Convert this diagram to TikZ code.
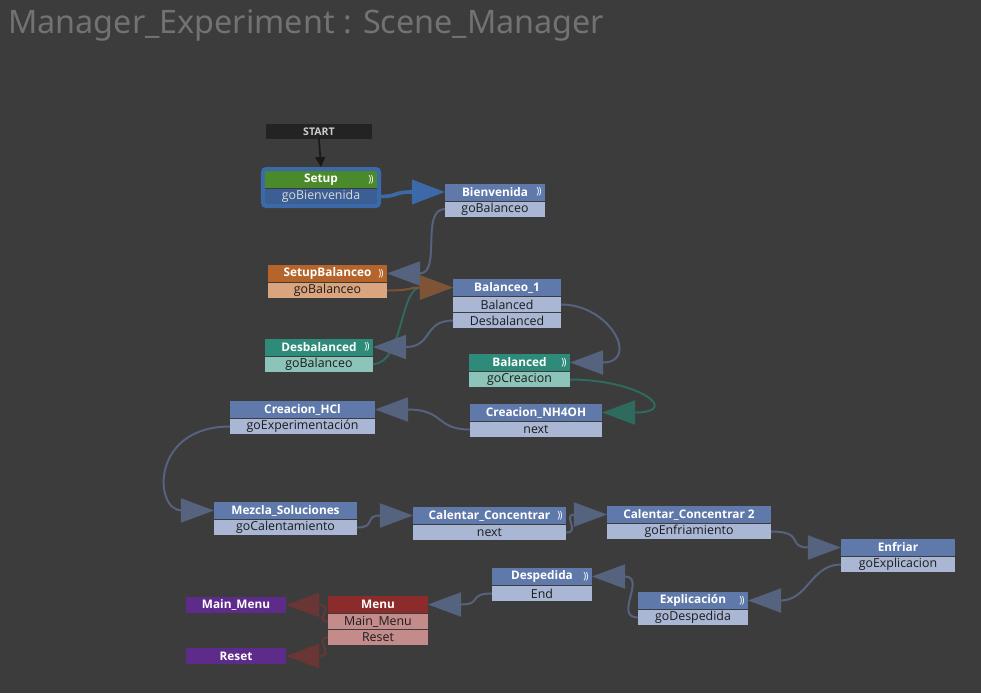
\documentclass[tikz,border=0pt]{standalone}
\usepackage{fontspec}
\setmainfont{Noto Sans}
\newfontfamily\statefont{Open Sans}
\usetikzlibrary{positioning,arrows.meta,fit}

\definecolor{bgcol}{HTML}{3C3C3C}
\definecolor{titlecol}{HTML}{727272}
\definecolor{startcol}{HTML}{232323}
\definecolor{rowtext}{HTML}{1C1C1C}
\definecolor{slatehead}{HTML}{6079AB}
\definecolor{slaterow}{HTML}{A9B6D4}
\definecolor{greenhead}{HTML}{4B8A2A}
\definecolor{setuprow}{HTML}{3B5E94}
\definecolor{selblue}{HTML}{3C6AA8}
\definecolor{orangehead}{HTML}{B5652B}
\definecolor{orangerow}{HTML}{D9A47E}
\definecolor{tealhead}{HTML}{2E8A79}
\definecolor{tealrow}{HTML}{8CC4B9}
\definecolor{redhead}{HTML}{8B2B2B}
\definecolor{redrow}{HTML}{C48B8B}
\definecolor{purplebox}{HTML}{5E2B8B}
\definecolor{slatelink}{HTML}{56637F}
\definecolor{orangelink}{HTML}{7F5436}
\definecolor{teallink}{HTML}{2F6A5F}
\definecolor{redlink}{HTML}{6A3535}

\tikzset{title/.style={font=\fontsize{23}{27}\selectfont,text=titlecol,anchor=base west,inner sep=0pt},
state head/.style={fill=#1,text=white,font=\statefont\fontsize{8.4}{9}\selectfont\bfseries,minimum height=0.425cm,inner sep=0pt,outer sep=0pt},
state row/.style={fill=#1,text=rowtext,font=\statefont\fontsize{8.8}{9}\selectfont,minimum height=0.375cm,inner sep=0pt,outer sep=0pt},
start box/.style={fill=startcol,text=white!80!black,font=\statefont\fontsize{7.5}{8}\selectfont\bfseries,minimum width=2.65cm,minimum height=0.375cm,inner sep=0pt,outer sep=0pt},
exit box/.style={fill=purplebox,text=white,font=\statefont\fontsize{8.4}{9}\selectfont\bfseries,minimum width=2.5cm,minimum height=0.4cm,inner sep=0pt,outer sep=0pt},
loop icon/.style={text=white,font=\statefont\fontsize{7}{8}\selectfont,inner sep=0pt},
sel frame/.style={draw=selblue,line width=0.1cm,rounded corners=0.08cm,inner sep=0.05cm},
link/.style={draw=#1,line width=1.4pt,-{Triangle[length=0.825cm,width=0.6cm]}},
start link/.style={draw=black!90,line width=1.2pt,-{Triangle[length=0.25cm,width=0.25cm]}}}

\begin{document}
\begin{tikzpicture}[x=0.025cm,y=-0.025cm]
%% canvas
\fill[bgcol] (0,0) rectangle (981,693);
\useasboundingbox (0,0) rectangle (981,693);
\node [title] (title) at (8,33) {Manager\_Experiment : Scene\_Manager};

%% Coordinates of nodes.
\coordinate (n-start) at (319,131.5);
\coordinate (n-setup) at (321,179.5);
\coordinate (n-bienv) at (495,192);
\coordinate (n-setupbal) at (327.5,273.5);
\coordinate (n-bal1) at (507,287.5);
\coordinate (n-desbal) at (319,347);
\coordinate (n-balanced) at (519.5,362.5);
\coordinate (n-hcl) at (302.5,409.5);
\coordinate (n-nh4oh) at (536,412.5);
\coordinate (n-mezcla) at (285.5,510.5);
\coordinate (n-cc1) at (489.5,515.5);
\coordinate (n-cc2) at (689,514.5);
\coordinate (n-enfriar) at (898,547.5);
\coordinate (n-desped) at (542,576.5);
\coordinate (n-explic) at (693,600.5);
\coordinate (n-menu) at (378,604.5);
\coordinate (n-mainmenu) at (236,605);
\coordinate (n-reset) at (236,656);

%% states
\node [start box] (start) at (n-start) {START};

\node [state head=greenhead,minimum width=2.8cm] (setup) at (n-setup) {Setup};
\node [state row=setuprow,text=white!85!black,minimum width=2.8cm,below=0.025cm of setup] (setup-go) {goBienvenida};
\node [sel frame,fit=(setup)(setup-go)] (setup-sel) {};

\node [state head=slatehead,minimum width=2.5cm] (bienv) at (n-bienv) {Bienvenida};
\node [state row=slaterow,minimum width=2.5cm,below=0.025cm of bienv] (bienv-go) {goBalanceo};

\node [state head=orangehead,minimum width=2.975cm] (setupbal) at (n-setupbal) {SetupBalanceo};
\node [state row=orangerow,minimum width=2.975cm,below=0.025cm of setupbal] (setupbal-go) {goBalanceo};

\node [state head=slatehead,minimum width=2.7cm] (bal1) at (n-bal1) {Balanceo\_1};
\node [state row=slaterow,minimum width=2.7cm,below=0.025cm of bal1] (bal1-bal) {Balanced};
\node [state row=slaterow,minimum width=2.7cm,below=0.025cm of bal1-bal] (bal1-des) {Desbalanced};

\node [state head=tealhead,minimum width=2.7cm] (desbal) at (n-desbal) {Desbalanced};
\node [state row=tealrow,minimum width=2.7cm,below=0.025cm of desbal] (desbal-go) {goBalanceo};

\node [state head=tealhead,minimum width=2.525cm] (balanced) at (n-balanced) {Balanced};
\node [state row=tealrow,minimum width=2.525cm,below=0.025cm of balanced] (balanced-go) {goCreacion};

\node [state head=slatehead,minimum width=3.625cm] (hcl) at (n-hcl) {Creacion\_HCl};
\node [state row=slaterow,minimum width=3.625cm,below=0.025cm of hcl] (hcl-go) {goExperimentación};

\node [state head=slatehead,minimum width=3.3cm] (nh4oh) at (n-nh4oh) {Creacion\_NH4OH};
\node [state row=slaterow,minimum width=3.3cm,below=0.025cm of nh4oh] (nh4oh-go) {next};

\node [state head=slatehead,minimum width=3.575cm] (mezcla) at (n-mezcla) {Mezcla\_Soluciones};
\node [state row=slaterow,minimum width=3.575cm,below=0.025cm of mezcla] (mezcla-go) {goCalentamiento};

\node [state head=slatehead,minimum width=3.825cm] (cc1) at (n-cc1) {Calentar\_Concentrar};
\node [state row=slaterow,minimum width=3.825cm,below=0.025cm of cc1] (cc1-go) {next};

\node [state head=slatehead,minimum width=4.1cm] (cc2) at (n-cc2) {Calentar\_Concentrar 2};
\node [state row=slaterow,minimum width=4.1cm,below=0.025cm of cc2] (cc2-go) {goEnfriamiento};

\node [state head=slatehead,minimum width=2.85cm] (enfriar) at (n-enfriar) {Enfriar};
\node [state row=slaterow,minimum width=2.85cm,below=0.025cm of enfriar] (enfriar-go) {goExplicacion};

\node [state head=slatehead,minimum width=2.5cm] (desped) at (n-desped) {Despedida};
\node [state row=slaterow,minimum width=2.5cm,below=0.025cm of desped] (desped-go) {End};

\node [state head=slatehead,minimum width=2.75cm] (explic) at (n-explic) {Explicación};
\node [state row=slaterow,minimum width=2.75cm,below=0.025cm of explic] (explic-go) {goDespedida};

\node [state head=redhead,minimum width=2.5cm] (menu) at (n-menu) {Menu};
\node [state row=redrow,minimum width=2.5cm,below=0.025cm of menu] (menu-mm) {Main\_Menu};
\node [state row=redrow,minimum width=2.5cm,below=0.025cm of menu-mm] (menu-rs) {Reset};

\node [exit box] (mainmenu) at (n-mainmenu) {Main\_Menu};
\node [exit box] (reset) at (n-reset) {Reset};

%% loop icons
\node [loop icon] (setup-i) at ([xshift=-0.15cm]setup.east) {)\kern-0.4pt)};
\node [loop icon] (bienv-i) at ([xshift=-0.15cm]bienv.east) {)\kern-0.4pt)};
\node [loop icon] (setupbal-i) at ([xshift=-0.15cm]setupbal.east) {)\kern-0.4pt)};
\node [loop icon] (desbal-i) at ([xshift=-0.15cm]desbal.east) {)\kern-0.4pt)};
\node [loop icon] (balanced-i) at ([xshift=-0.15cm]balanced.east) {)\kern-0.4pt)};
\node [loop icon] (cc1-i) at ([xshift=-0.15cm]cc1.east) {)\kern-0.4pt)};
\node [loop icon] (desped-i) at ([xshift=-0.15cm]desped.east) {)\kern-0.4pt)};
\node [loop icon] (explic-i) at ([xshift=-0.15cm]explic.east) {)\kern-0.4pt)};

%% transitions
\draw [start link] (start.south) -- (setup-sel.north);
\draw [link=selblue,line width=2.6pt] (setup-go.east) .. controls +(25,0) and +(-55,0) .. (bienv.west);
\draw [link=slatelink] (bienv-go.west) .. controls +(-25,0) and +(55,0) .. (setupbal.east);
\draw [link=teallink] (desbal-go.east) .. controls +(30,0) and +(-53,0) .. (bal1.west);
\draw [link=orangelink] (setupbal-go.east) .. controls +(25,0) and +(-45,0) .. (bal1.west);
\draw [link=slatelink] (bal1-des.west) .. controls +(-30,0) and +(60,0) .. (desbal.east);
\draw [link=slatelink] (bal1-bal.east) .. controls +(50,0) and +(70,0) .. (balanced.east);
\draw [link=teallink] (balanced-go.east) .. controls +(70,0) and +(80,0) .. (nh4oh.east);
\draw [link=slatelink] (nh4oh-go.west) .. controls +(-35,0) and +(70,0) .. (hcl.east);
\draw [link=slatelink] (hcl-go.west) .. controls +(-80,0) and +(-60,0) .. (mezcla.west);
\draw [link=slatelink] (mezcla-go.east) .. controls +(20,0) and +(-50,0) .. (cc1.west);
\draw [link=slatelink] (cc1-go.east) .. controls +(15,0) and +(-45,0) .. (cc2.west);
\draw [link=slatelink] (cc2-go.east) .. controls +(35,0) and +(-55,0) .. (enfriar.west);
\draw [link=slatelink] (enfriar-go.west) .. controls +(-30,0) and +(60,0) .. (explic.east);
\draw [link=slatelink] (explic-go.west) .. controls +(-25,0) and +(55,0) .. (desped.east);
\draw [link=slatelink] (desped-go.west) .. controls +(-25,0) and +(55,0) .. (menu.east);
\draw [link=redlink] (menu-mm.west) .. controls +(-15,0) and +(50,0) .. (mainmenu.east);
\draw [link=redlink] (menu-rs.west) .. controls +(-15,0) and +(50,0) .. (reset.east);

\end{tikzpicture}
\end{document}
